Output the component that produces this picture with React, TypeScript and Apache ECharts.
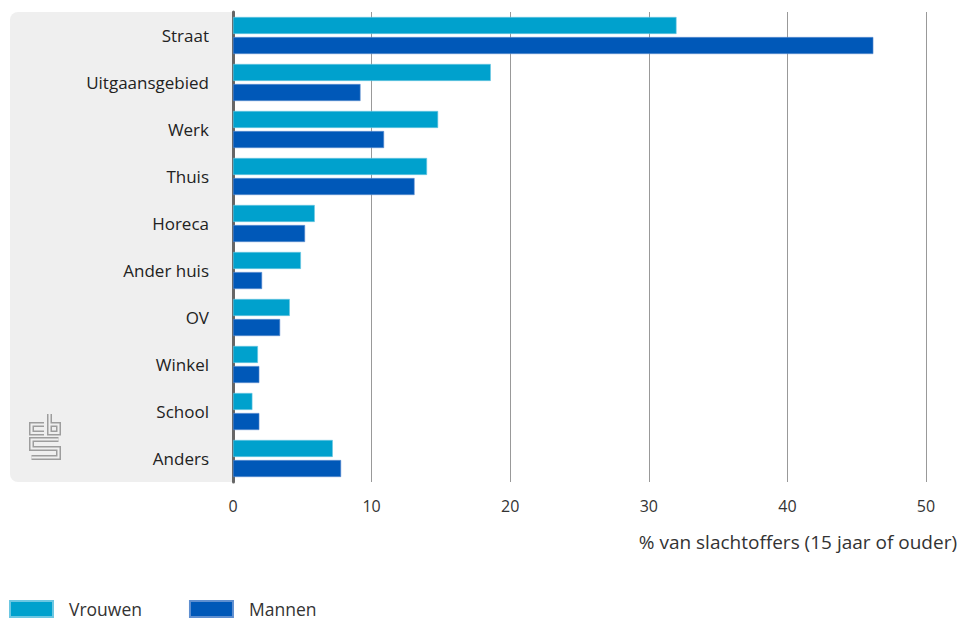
import React, { useEffect, useRef } from "react";
import * as echarts from "echarts";

const categories = ["Straat", "Uitgaansgebied", "Werk", "Thuis", "Horeca", "Ander huis", "OV", "Winkel", "School", "Anders"];
const vrouwen = [32.0, 18.6, 14.8, 14.0, 5.9, 4.9, 4.1, 1.8, 1.4, 7.2];
const mannen = [46.2, 9.2, 10.9, 13.1, 5.2, 2.1, 3.4, 1.9, 1.9, 7.8];
const xTicks = [0, 10, 20, 30, 40, 50];
const axisTitle = "% van slachtoffers (15 jaar of ouder)";

const FONT = "Open Sans";

export default function App() {
  const ref = useRef<HTMLDivElement>(null);
  useEffect(() => {
    if (!ref.current) return;
    const chart = echarts.init(ref.current, null, { renderer: "svg" });
    const logoStroke = (points: number[][], w: number, c: string) => ({
      type: "polyline",
      z: -5,
      silent: true,
      shape: { points },
      style: { stroke: c, lineWidth: w, fill: null, lineJoin: "miter", lineCap: "butt" },
    });
    const c1 = [[44, 424.5], [31.5, 424.5], [31.5, 433], [44, 433]];
    const b1 = [[49.5, 414], [49.5, 433], [58.5, 433], [58.5, 424.5], [49.5, 424.5]];
    const s1 = [[58.5, 439.5], [31.5, 439.5], [31.5, 448.5], [58.5, 448.5], [58.5, 457.5], [31.5, 457.5]];
    const logo = [c1, b1, s1].flatMap((p) => [logoStroke(p, 5, "#9d9d9d"), logoStroke(p, 2, "#efefef")]);
    chart.setOption({
      animation: false,
      grid: { left: 233, right: 33, top: 12, bottom: 139, containLabel: false },
      xAxis: {
        type: "value",
        min: 0,
        max: 50,
        interval: 10,
        axisLine: { show: false },
        axisTick: { show: false },
        splitLine: { show: true, lineStyle: { color: "#999", width: 1 } },
        axisLabel: {
          color: "#333",
          fontSize: 16,
          fontFamily: FONT,
          margin: 16,
          formatter: (v: number) => (xTicks.includes(v) ? String(v) : ""),
        },
      },
      yAxis: {
        type: "category",
        data: categories,
        inverse: true,
        axisLine: { show: true, lineStyle: { color: "#666", width: 3 } },
        axisTick: { show: false },
        axisLabel: { color: "#222", fontSize: 17, fontFamily: FONT, margin: 24 },
      },
      legend: {
        left: 9,
        top: 600,
        padding: 0,
        itemWidth: 43,
        itemHeight: 16,
        itemGap: 47,
        icon: "rect",
        textStyle: { color: "#333", fontSize: 17.5, lineHeight: 17, fontFamily: FONT, padding: [0, 0, 0, 11] },
        data: ["Vrouwen", "Mannen"],
      },
      graphic: [
        {
          type: "rect",
          z: -10,
          silent: true,
          shape: { x: 10, y: 12, width: 223, height: 470, r: [8, 0, 0, 8] },
          style: { fill: "#efefef" },
        },
        ...logo,
        {
          type: "text",
          right: 2,
          top: 532,
          style: { text: axisTitle, fill: "#333", fontSize: 19, fontFamily: FONT },
        },
      ],
      series: [
        {
          name: "Vrouwen",
          type: "bar",
          data: vrouwen,
          barWidth: 17,
          barGap: "18%",
          itemStyle: { color: "#00a1cd", borderColor: "#6cc7e2", borderWidth: 0.6 },
        },
        {
          name: "Mannen",
          type: "bar",
          data: mannen,
          barWidth: 17,
          itemStyle: { color: "#0058b8", borderColor: "#5f8fd0", borderWidth: 0.6 },
        },
      ],
    });
    return () => chart.dispose();
  }, []);
  return <div ref={ref} style={{ width: 959, height: 621, position: "absolute", left: 0, top: 0 }} />;
}
